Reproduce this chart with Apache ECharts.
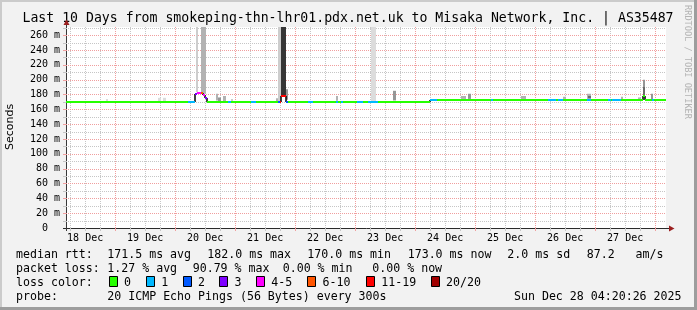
<!DOCTYPE html>
<html><head><meta charset="utf-8">
<script src="https://cdn.jsdelivr.net/npm/echarts@6/dist/echarts.min.js"></script>
<style>html,body{margin:0;padding:0;background:#f2f2f2}#c{width:697px;height:310px}</style>
</head><body><div id="c"></div>
<script>
// ---------------- data ----------------
const titleText = 'Last 10 Days from smokeping-thn-lhr01.pdx.net.uk to Misaka Network, Inc. | AS35487';
const yAxisName = 'Seconds';
const xLabels = ['18 Dec','19 Dec','20 Dec','21 Dec','22 Dec','23 Dec','24 Dec','25 Dec','26 Dec','27 Dec'];
const xLabelHours = [12,36,60,84,108,132,156,180,204,228];   // hours since 18 Dec 00:00
const xStart = 4.34, xEnd = 244.34;                          // 18 Dec 04:20 .. 28 Dec 04:20
const yMax = 271;                                            // ms

// median segments: [startHour, endHour, median ms, loss bucket]
const medianSegs = [
  [4.34, 53.14, 170.5, 0], [53.14, 55.94, 170.5, 1], [55.94, 56.74, 180, 3],
  [56.74, 58.34, 182, 4], [58.34, 59.14, 182, 5], [59.14, 59.94, 179, 4],
  [59.94, 60.74, 175, 3], [60.74, 69.14, 170.5, 0], [69.14, 70.34, 170.5, 1],
  [70.34, 78.34, 170.5, 0], [78.34, 80.34, 170.5, 1], [80.34, 88.94, 170.5, 0],
  [88.94, 89.94, 170.5, 2], [89.94, 90.34, 170.5, 6], [90.34, 92.14, 178, 6],
  [92.14, 93.14, 170.5, 2], [93.14, 101.14, 170.5, 0], [101.14, 103.14, 170.5, 1],
  [103.14, 112.34, 170.5, 0], [112.34, 113.14, 170.5, 1], [113.14, 114.34, 170.5, 0],
  [114.34, 115.14, 170.5, 1], [115.14, 120.74, 170.5, 0], [120.74, 123.14, 170.5, 1],
  [123.14, 125.14, 170.5, 0], [125.14, 129.14, 170.5, 1], [129.14, 149.94, 170.5, 0],
  [149.94, 152.74, 173, 1], [152.74, 174.34, 173, 0], [174.34, 175.14, 173, 1],
  [175.14, 197.14, 173, 0], [197.14, 200.34, 173, 1], [200.34, 201.14, 173, 0],
  [201.14, 203.14, 173, 1], [203.14, 212.74, 173, 0], [212.74, 214.34, 173, 1],
  [214.34, 221.14, 173, 0], [221.14, 222.34, 173, 1], [222.34, 222.74, 173, 0],
  [222.74, 226.34, 173, 1], [226.34, 234.94, 173, 0], [234.94, 235.74, 178, 0],
  [235.74, 238.74, 173, 0], [238.74, 239.34, 173, 1], [239.34, 244.34, 173, 0]
];

// smoke: [startHour, endHour, low ms, high ms, shade index]
const smokeBars = [
  [20.34, 21.14, 171, 174, 0], [41.14, 42.34, 171, 175.5, 0], [43.14, 44.34, 171, 175.5, 0],
  [56.34, 57.14, 183, 400, 1], [58.34, 60.34, 181, 400, 2],
  [64.34, 65.14, 172, 181, 2], [65.14, 66.34, 171, 176, 3], [67.14, 68.34, 171, 178, 2],
  [70.34, 71.14, 171, 174, 1], [88.34, 89.14, 171, 175, 2], [89.14, 90.34, 171, 400, 1],
  [90.34, 92.34, 179, 400, 5], [92.34, 93.14, 173, 187, 3], [112.34, 113.14, 171.5, 178, 2],
  [126.34, 128.34, 171, 400, 0], [134.94, 136.34, 172, 185, 3],
  [162.34, 164.34, 174, 178, 2], [164.94, 166.34, 174, 181, 3], [186.34, 188.34, 174, 178, 2],
  [203.14, 204.34, 174, 177, 2], [212.74, 214.34, 174, 181, 2], [213.14, 214.34, 175, 178, 4],
  [226.34, 227.14, 174, 177, 2], [233.14, 234.34, 174, 176, 2],
  [234.94, 236.14, 176, 200, 3], [235.14, 235.94, 178, 190, 4], [238.34, 239.14, 174, 181, 3]
];

const lossColors = ['#26ff00','#00b8ff','#0059ff','#7e00ff','#ff00ff','#ff5500','#ff0000','#a10000'];
const lossLabels = ['0','1','2','3','4-5','6-10','11-19','20/20'];
const rowLabels = ['median rtt:', 'packet loss:', 'loss color:', 'probe:'];
const medianStats = ['171.5 ms avg', '182.0 ms max', '170.0 ms min', '173.0 ms now', '2.0 ms sd', '87.2   am/s'];
const lossStats = ['1.27 % avg', '90.79 % max', '0.00 % min', '0.00 % now'];
const probeText = '20 ICMP Echo Pings (56 Bytes) every 300s';
const dateText = 'Sun Dec 28 04:20:26 2025';
const creditText = 'RRDTOOL / TOBI OETIKER';

// ---------------- styles / layout ----------------
const smokeShades = ['#dcdcdc', '#cdcdcd', '#b2b2b2', '#969696', '#6a6a6a', '#363636'];
const MAJ = '#f09e9e', MIN = '#c6c6c6';
const MONO = '"DejaVu Sans Mono", monospace';
const LEG_FONT = '11.6px ' + MONO;
const rowY = [254.5, 268.5, 282.5, 296.5];
const medianStatX = [107.3, 207.3, 307.3, 407.7, 507.3, 586.7];
const lossStatX = [107.3, 192.7, 282.7, 372.3];
const boxX = [108.7, 146, 182.7, 219.3, 256, 307.3, 366, 430.7];

// grid tick positions (axis ticks, not data)
const xGrid = [];
for (let h = 6; h < xEnd; h += 6) if (h > xStart) xGrid.push([h, 0, h % 24 === 0 ? 1 : 0]);
xGrid.sort((a, b) => a[2] - b[2]);
const yGrid = [];
for (let v = 10; v <= 270; v += 10) yGrid.push([xStart, v, v % 20 === 0 ? 1 : 0]);
yGrid.sort((a, b) => a[2] - b[2]);

const connectors = [];
for (let i = 1; i < medianSegs.length; i++) {
  const a = medianSegs[i - 1], b = medianSegs[i];
  if (a[2] !== b[2]) connectors.push([b[0], a[2], b[2]]);
}

// ---------------- graphics ----------------
const g = [];
const txt = (x, y, text, font, extra) => ({
  type: 'text', x: x, y: y, silent: true,
  style: Object.assign({ text: text, font: font, fill: '#000', align: 'left', verticalAlign: 'middle' }, extra || {})
});
g.push({ type: 'rect', shape: { x: 0, y: 0, width: 697, height: 2 }, style: { fill: '#cbcbcb' } });
g.push({ type: 'rect', shape: { x: 0, y: 0, width: 2, height: 310 }, style: { fill: '#cbcbcb' } });
g.push({ type: 'rect', shape: { x: 694, y: 0, width: 3, height: 310 }, style: { fill: '#9d9d9d' } });
g.push({ type: 'rect', shape: { x: 0, y: 307, width: 697, height: 3 }, style: { fill: '#9d9d9d' } });
g.push(txt(348, 18.5, titleText, '13.2px ' + MONO, { align: 'center' }));
g.push(Object.assign(txt(10, 127, yAxisName, '11px "DejaVu Sans", sans-serif', { align: 'center' }), { rotation: Math.PI / 2 }));
g.push(Object.assign(txt(687.5, 62, creditText, '8.6px ' + MONO, { align: 'center', fill: '#b4b4b4' }), { rotation: -Math.PI / 2 }));
// axes + arrows
g.push({ type: 'line', shape: { x1: 63, y1: 228.5, x2: 670, y2: 228.5 }, style: { stroke: '#2a2a2a', lineWidth: 1 } });
g.push({ type: 'line', shape: { x1: 66.5, y1: 231, x2: 66.5, y2: 24 }, style: { stroke: '#3a3a3a', lineWidth: 1 } });
g.push({ type: 'polygon', shape: { points: [[63.5, 25], [69.5, 25], [66.5, 19.5]] }, style: { fill: '#9b2020' } });
g.push({ type: 'polygon', shape: { points: [[669, 225.5], [669, 231.5], [674.5, 228.5]] }, style: { fill: '#9b2020' } });
// legend rows
rowLabels.forEach((t, i) => g.push(txt(16, rowY[i], t, LEG_FONT)));
medianStats.forEach((t, i) => g.push(txt(medianStatX[i], rowY[0], t, LEG_FONT)));
lossStats.forEach((t, i) => g.push(txt(lossStatX[i], rowY[1], t, LEG_FONT)));
lossLabels.forEach((t, i) => {
  g.push({ type: 'rect', shape: { x: Math.round(boxX[i]) + 0.5, y: 276.5, width: 8, height: 10 }, style: { fill: lossColors[i], stroke: '#000', lineWidth: 1 } });
  g.push(txt(boxX[i] + 15.3, rowY[2], t, LEG_FONT));
});
g.push(txt(107.3, rowY[3], probeText, LEG_FONT));
g.push(txt(681.5, rowY[3], dateText, LEG_FONT, { align: 'right' }));

// ---------------- chart ----------------
const chart = echarts.init(document.getElementById('c'), null, { renderer: 'canvas', width: 697, height: 310 });
chart.setOption({
  animation: false,
  backgroundColor: '#f2f2f2',
  grid: { left: 66, right: 31, top: 27, bottom: 82, show: true, backgroundColor: '#ffffff', borderWidth: 0 },
  xAxis: {
    type: 'value', min: xStart, max: xEnd,
    axisLine: { show: false }, axisTick: { show: false }, splitLine: { show: false },
    axisLabel: {
      customValues: xLabelHours,
      formatter: v => xLabels[xLabelHours.indexOf(v)] || '',
      fontFamily: MONO, fontSize: 10, color: '#000', margin: 5
    }
  },
  yAxis: {
    type: 'value', min: 0, max: yMax, interval: 20,
    axisLine: { show: false }, axisTick: { show: false }, splitLine: { show: false },
    axisLabel: {
      formatter: v => (v % 20 !== 0 ? '' : (v === 0 ? '0  ' : v + ' m')),
      fontFamily: MONO, fontSize: 10, color: '#000', margin: 6
    }
  },
  graphic: g,
  series: [
    { // vertical grid
      type: 'custom', z: 1, silent: true, data: xGrid,
      renderItem: (p, api) => {
        const a = api.coord([api.value(0), 0]), b = api.coord([api.value(0), yMax]);
        const x = Math.round(a[0]) + 0.5, col = api.value(2) ? MAJ : MIN;
        return { type: 'group', children: [
          { type: 'line', shape: { x1: x, y1: a[1], x2: x, y2: b[1] }, style: { stroke: col, lineWidth: 1, lineDash: [1, 1] } },
          { type: 'line', shape: { x1: x, y1: a[1], x2: x, y2: a[1] + 3 }, style: { stroke: col, lineWidth: 1 } }
        ] };
      }
    },
    { // horizontal grid
      type: 'custom', z: 1, silent: true, data: yGrid,
      renderItem: (p, api) => {
        const a = api.coord([xStart, api.value(1)]), b = api.coord([xEnd, api.value(1)]);
        const y = Math.round(a[1]) + 0.5, col = api.value(2) ? MAJ : MIN;
        return { type: 'group', children: [
          { type: 'line', shape: { x1: a[0], y1: y, x2: b[0], y2: y }, style: { stroke: col, lineWidth: 1, lineDash: [1, 1] } },
          { type: 'line', shape: { x1: a[0] - 3, y1: y, x2: a[0], y2: y }, style: { stroke: col, lineWidth: 1 } }
        ] };
      }
    },
    { // smoke
      type: 'custom', z: 2, silent: true, clip: true, data: smokeBars,
      encode: { x: [0, 1], y: [2, 3] },
      renderItem: (p, api) => {
        const p0 = api.coord([api.value(0), api.value(3)]);
        const p1 = api.coord([api.value(1), api.value(2)]);
        const x0 = Math.round(p0[0]), x1 = Math.round(p1[0]);
        return { type: 'rect', shape: { x: x0, y: p0[1], width: Math.max(1, x1 - x0), height: p1[1] - p0[1] },
                 style: { fill: smokeShades[api.value(4)] } };
      }
    },
    { // step connectors (under the coloured median)
      type: 'custom', z: 3, silent: true, clip: true, data: connectors,
      encode: { x: 0, y: [1, 2] },
      renderItem: (p, api) => {
        const a = api.coord([api.value(0), api.value(1)]), b = api.coord([api.value(0), api.value(2)]);
        const x = Math.round(a[0]);
        return { type: 'line', shape: { x1: x, y1: Math.round(a[1]), x2: x, y2: Math.round(b[1]) },
                 style: { stroke: '#000', lineWidth: 1.5 } };
      }
    },
    { // median, coloured by loss
      type: 'custom', z: 4, silent: true, clip: true, data: medianSegs,
      encode: { x: [0, 1], y: 2 },
      renderItem: (p, api) => {
        const a = api.coord([api.value(0), api.value(2)]), b = api.coord([api.value(1), api.value(2)]);
        const y = Math.round(a[1]);
        return { type: 'line', shape: { x1: Math.round(a[0]), y1: y, x2: Math.round(b[0]), y2: y },
                 style: { stroke: lossColors[api.value(3)], lineWidth: 2 } };
      }
    }
  ]
});
</script>
</body></html>
